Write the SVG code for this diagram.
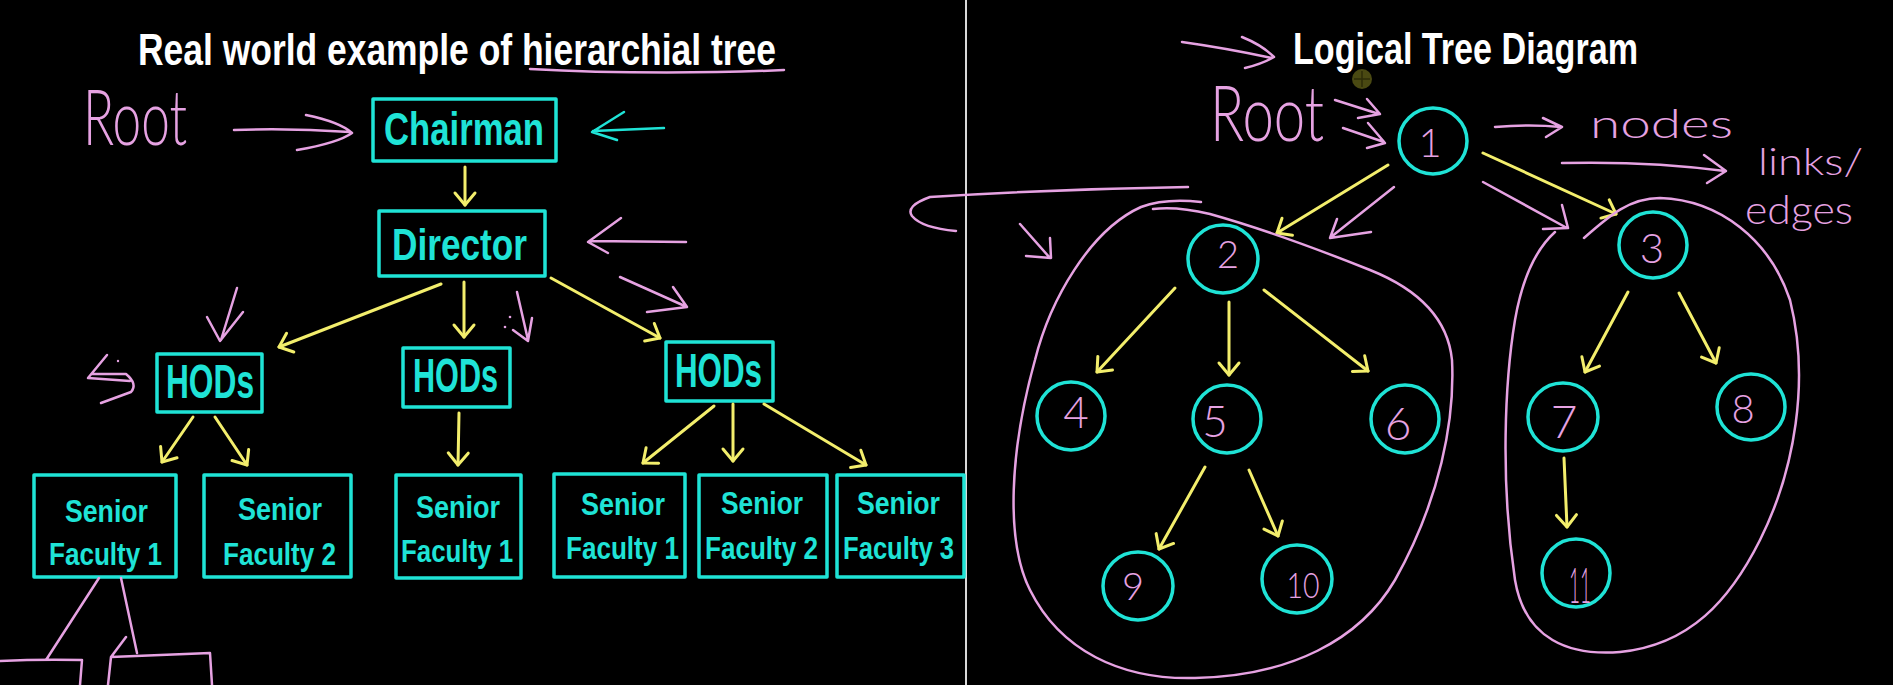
<svg xmlns="http://www.w3.org/2000/svg" width="1893" height="685" viewBox="0 0 1893 685">
<style>
.bg{fill:#000}
.cy{fill:none;stroke:#1fe3d6;stroke-width:3.5;stroke-linejoin:round}
.yl{fill:none;stroke:#f3ee6c;stroke-width:3;stroke-linecap:round;marker-end:url(#yh)}
.pk{fill:none;stroke:#e6a2e2;stroke-width:2.5;stroke-linecap:round;stroke-linejoin:round}
.lbl{font-family:"Liberation Sans",Arial,sans-serif;font-weight:bold;fill:#1fe3d6}
.ttl{font-family:"Liberation Sans",Arial,sans-serif;font-weight:bold;fill:#ffffff}
.hand{font-family:Lato,"Open Sans","DejaVu Sans",sans-serif;font-weight:300;fill:#e6a2e2}
</style>
<defs>
<marker id="yh" markerUnits="userSpaceOnUse" markerWidth="30" markerHeight="30" viewBox="-15 -15 30 30" refX="0" refY="0" orient="auto" overflow="visible">
<path d="M-12,-10 L0,0 L-12,10" fill="none" stroke="#f3ee6c" stroke-width="3" stroke-linecap="round" stroke-linejoin="round"/>
</marker>
</defs>
<rect class="bg" x="0" y="0" width="1893" height="685"/>
<line x1="966" y1="0" x2="966" y2="685" stroke="#d9d9d9" stroke-width="2"/>

<!-- titles -->
<text class="ttl" x="138" y="65" font-size="44" textLength="638" lengthAdjust="spacingAndGlyphs">Real world example of hierarchial tree</text>
<text class="ttl" x="1293" y="64" font-size="44" textLength="345" lengthAdjust="spacingAndGlyphs">Logical Tree Diagram</text>

<!-- left tree nodes -->
<g id="chairman"><rect class="cy" x="373" y="99" width="183" height="62"/><text class="lbl" x="384" y="145" font-size="46" textLength="160" lengthAdjust="spacingAndGlyphs">Chairman</text></g>
<g id="director"><rect class="cy" x="379" y="211" width="166" height="65"/><text class="lbl" x="392" y="260" font-size="45" textLength="135" lengthAdjust="spacingAndGlyphs">Director</text></g>
<g id="hods1"><rect class="cy" x="157" y="354" width="105" height="58"/><text class="lbl" x="166" y="398" font-size="48" textLength="88" lengthAdjust="spacingAndGlyphs">HODs</text></g>
<g id="hods2"><rect class="cy" x="403" y="348" width="107" height="59"/><text class="lbl" x="413" y="392" font-size="48" textLength="85" lengthAdjust="spacingAndGlyphs">HODs</text></g>
<g id="hods3"><rect class="cy" x="666" y="342" width="107" height="59"/><text class="lbl" x="675" y="387" font-size="48" textLength="87" lengthAdjust="spacingAndGlyphs">HODs</text></g>
<g id="sf1a"><rect class="cy" x="34" y="475" width="142" height="102"/><text class="lbl" x="65" y="522" font-size="32" textLength="83" lengthAdjust="spacingAndGlyphs">Senior</text><text class="lbl" x="49" y="565" font-size="32" textLength="113" lengthAdjust="spacingAndGlyphs">Faculty 1</text></g>
<g id="sf2a"><rect class="cy" x="204" y="475" width="147" height="102"/><text class="lbl" x="238" y="520" font-size="32" textLength="84" lengthAdjust="spacingAndGlyphs">Senior</text><text class="lbl" x="223" y="565" font-size="32" textLength="113" lengthAdjust="spacingAndGlyphs">Faculty 2</text></g>
<g id="sf1b"><rect class="cy" x="396" y="475" width="125" height="103"/><text class="lbl" x="416" y="518" font-size="32" textLength="84" lengthAdjust="spacingAndGlyphs">Senior</text><text class="lbl" x="401" y="562" font-size="32" textLength="112" lengthAdjust="spacingAndGlyphs">Faculty 1</text></g>
<g id="sf1c"><rect class="cy" x="554" y="474" width="131" height="103"/><text class="lbl" x="581" y="515" font-size="32" textLength="84" lengthAdjust="spacingAndGlyphs">Senior</text><text class="lbl" x="566" y="559" font-size="32" textLength="113" lengthAdjust="spacingAndGlyphs">Faculty 1</text></g>
<g id="sf2c"><rect class="cy" x="699" y="475" width="128" height="102"/><text class="lbl" x="721" y="514" font-size="32" textLength="82" lengthAdjust="spacingAndGlyphs">Senior</text><text class="lbl" x="705" y="559" font-size="32" textLength="113" lengthAdjust="spacingAndGlyphs">Faculty 2</text></g>
<g id="sf3c"><rect class="cy" x="837" y="475" width="127" height="102"/><text class="lbl" x="857" y="514" font-size="32" textLength="83" lengthAdjust="spacingAndGlyphs">Senior</text><text class="lbl" x="843" y="559" font-size="32" textLength="111" lengthAdjust="spacingAndGlyphs">Faculty 3</text></g>

<!-- right tree nodes -->
<g id="n1"><ellipse class="cy" cx="1433" cy="141" rx="34" ry="33"/><text class="hand" x="1430" y="157" font-size="40" text-anchor="middle">1</text></g>
<g id="n2"><ellipse class="cy" cx="1223" cy="259" rx="35" ry="34"/><text class="hand" x="1228" y="268" font-size="38" text-anchor="middle">2</text></g>
<g id="n3"><ellipse class="cy" cx="1653" cy="245" rx="34" ry="33"/><text class="hand" x="1652" y="263" font-size="42" text-anchor="middle">3</text></g>
<g id="n4"><ellipse class="cy" cx="1071" cy="416" rx="34" ry="34"/><text class="hand" x="1076" y="428" font-size="44" text-anchor="middle">4</text></g>
<g id="n5"><ellipse class="cy" cx="1227" cy="419" rx="34" ry="34"/><text class="hand" x="1215" y="437" font-size="44" text-anchor="middle">5</text></g>
<g id="n6"><ellipse class="cy" cx="1405" cy="419" rx="34" ry="34"/><text class="hand" x="1398" y="440" font-size="46" text-anchor="middle">6</text></g>
<g id="n7"><ellipse class="cy" cx="1563" cy="417" rx="35" ry="34"/><text class="hand" x="1564" y="438" font-size="46" text-anchor="middle">7</text></g>
<g id="n8"><ellipse class="cy" cx="1751" cy="407" rx="34" ry="33"/><text class="hand" x="1743" y="423" font-size="40" text-anchor="middle">8</text></g>
<g id="n9"><ellipse class="cy" cx="1138" cy="586" rx="35" ry="34"/><text class="hand" x="1133" y="600" font-size="38" text-anchor="middle">9</text></g>
<g id="n10"><ellipse class="cy" cx="1297" cy="579" rx="35" ry="34"/><text class="hand" x="1303" y="598" font-size="36" text-anchor="middle" textLength="33" lengthAdjust="spacingAndGlyphs">10</text></g>
<g id="n11"><ellipse class="cy" cx="1576" cy="573" rx="34" ry="34"/><text class="hand" x="1580" y="603" font-size="50" text-anchor="middle" textLength="22" lengthAdjust="spacingAndGlyphs">11</text></g>

<!-- connectors -->
<g id="connectors">
<path class="yl" d="M465,167 L465,205"/>
<path class="yl" d="M441,284 L279,347"/>
<path class="yl" d="M464,282 L464,337"/>
<path class="yl" d="M551,278 L660,338"/>
<path class="yl" d="M193,417 L162,462"/>
<path class="yl" d="M215,417 L247,465"/>
<path class="yl" d="M459,413 L458,465"/>
<path class="yl" d="M714,406 L643,463"/>
<path class="yl" d="M733,404 L733,461"/>
<path class="yl" d="M764,404 L866,465"/>
<path class="yl" d="M1388,165 L1277,233"/>
<path class="yl" d="M1483,153 L1616,214"/>
<path class="yl" d="M1175,288 L1097,372"/>
<path class="yl" d="M1229,302 L1229,375"/>
<path class="yl" d="M1264,290 L1368,371"/>
<path class="yl" d="M1628,292 L1585,372"/>
<path class="yl" d="M1679,293 L1716,363"/>
<path class="yl" d="M1205,467 L1159,549"/>
<path class="yl" d="M1249,470 L1278,536"/>
<path class="yl" d="M1564,458 L1567,527"/>
</g>

<!-- annotations left -->
<g id="annot-left">
<path class="pk" d="M530,69 C620,74 720,73 784,70"/>
<text class="hand" x="83" y="145" font-size="76" textLength="104" lengthAdjust="spacingAndGlyphs">Root</text>
<path class="pk" d="M234,130 Q290,128 350,132 M306,115 Q340,122 352,133 Q338,143 297,150"/>
<path d="M664,128 L593,131 M624,112 L592,132 L617,140" fill="none" stroke="#1fe3d6" stroke-width="2.5" stroke-linecap="round" stroke-linejoin="round"/>
<path class="pk" d="M686,242 L590,241 M621,218 L588,242 L608,253"/>
<path class="pk" d="M237,288 L221,340 M207,317 L220,341 L243,312"/>
<path class="pk" d="M517,292 L528,340 M513,330 L528,341 L532,318"/>
<circle cx="510" cy="317" r="1.3" fill="#e6a2e2"/><circle cx="505" cy="327" r="1.3" fill="#e6a2e2"/>
<path class="pk" d="M620,277 L687,307 M673,287 L687,307 L647,312"/>
<path class="pk" d="M107,355 L88,378 L130,381 M92,374 L126,374 Q138,384 131,392 L101,403"/>
<circle cx="118" cy="361" r="1.2" fill="#e6a2e2"/>
<path class="pk" d="M99,578 L46,660 M121,578 L137,653 M0,661 Q40,659 82,660 L80,685 M126,637 L111,657 L108,685 M111,657 Q160,655 210,653 L212,685"/>
</g>

<!-- annotations right -->
<g id="annot-right">
<path class="pk" d="M1182,42 Q1225,48 1272,58 M1242,37 Q1262,45 1274,57 Q1262,64 1245,68"/>
<circle cx="1362" cy="79" r="10" fill="#4a4912"/>
<path d="M1362,71 L1362,87 M1354,79 L1370,79" stroke="#2e2d08" stroke-width="1.5"/>
<text class="hand" x="1210" y="141" font-size="76" textLength="114" lengthAdjust="spacingAndGlyphs">Root</text>
<path class="pk" d="M1335,100 L1379,114 M1367,99 L1380,114 L1358,118 M1343,128 L1384,142 M1368,123 L1385,143 L1367,148"/>
<path class="pk" d="M1495,127 Q1530,124 1561,127 M1543,118 L1562,127 L1546,137"/>
<text class="hand" x="1590" y="138" font-size="40" textLength="143" lengthAdjust="spacingAndGlyphs">nodes</text>
<path class="pk" d="M1562,163 Q1650,161 1725,171 M1704,155 L1726,171 L1707,183"/>
<text class="hand" x="1758" y="175" font-size="38" textLength="105" lengthAdjust="spacingAndGlyphs">links/</text>
<text class="hand" x="1745" y="224" font-size="40" textLength="108" lengthAdjust="spacingAndGlyphs">edges</text>
<path class="pk" d="M1188,187 Q1060,189 930,197 Q905,206 912,216 Q922,228 956,231"/>
<path class="pk" d="M1020,224 L1050,258 M1050,238 L1051,258 L1026,256"/>
<path class="pk" d="M1394,187 L1331,237 M1337,219 L1330,238 L1371,232"/>
<path class="pk" d="M1483,182 L1567,228 M1562,205 L1568,228 L1543,229"/>
<path class="pk" d="M1201,202 Q1165,198 1141,207 C1090,230 1050,300 1035,360 C1010,450 1005,540 1030,590 C1060,650 1120,680 1195,678 C1290,676 1360,640 1395,580 C1440,500 1455,420 1452,360 C1448,320 1420,290 1370,270 C1320,250 1260,228 1210,214 C1185,208 1168,207 1153,209"/>
<path class="pk" d="M1584,238 C1610,215 1630,198 1660,198 C1720,200 1770,240 1790,300 C1810,380 1795,470 1760,540 C1730,600 1690,645 1620,652 C1570,656 1525,640 1515,580 C1500,480 1505,380 1515,320 C1522,280 1535,250 1555,232"/>
</g>
</svg>
